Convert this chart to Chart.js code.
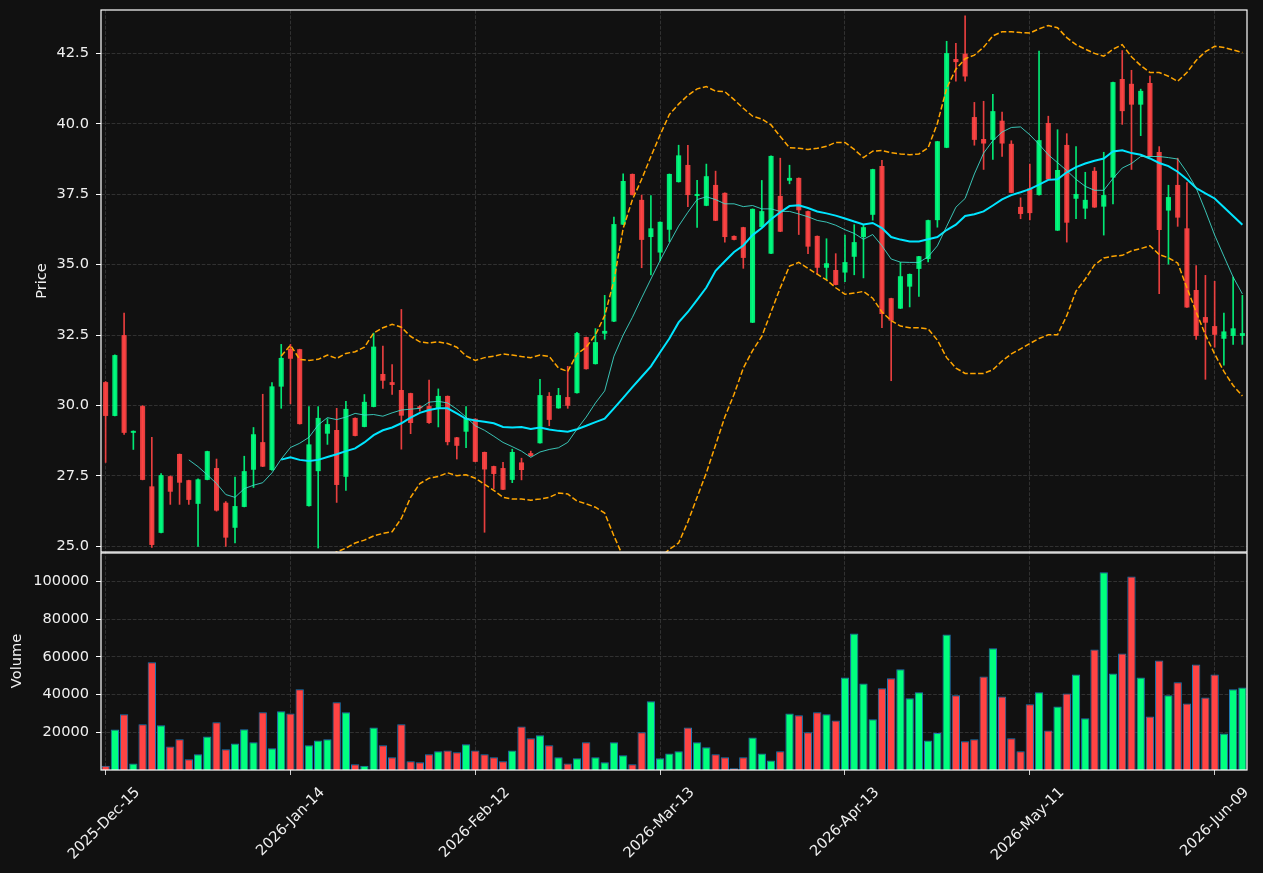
<!DOCTYPE html>
<html>
<head>
<meta charset="utf-8">
<title>Price and volume</title>
<script src="https://cdn.jsdelivr.net/npm/chart.js@4.4.1/dist/chart.umd.min.js"></script>
<style>
  html, body { margin: 0; padding: 0; background: #111111; }
  #wrap { width: 1263px; height: 873px; }
</style>
</head>
<body>
<div id="wrap"><canvas id="chart" width="1263" height="873"></canvas></div>
<script>
// x axis: one slot per session, labelled every 20 sessions
const tickIdx = [0, 20, 40, 60, 80, 100, 120];
const tickDates = ['2025-Dec-15', '2026-Jan-14', '2026-Feb-12', '2026-Mar-13', '2026-Apr-13', '2026-May-11', '2026-Jun-09'];
const priceTicks = [25.0, 27.5, 30.0, 32.5, 35.0, 37.5, 40.0, 42.5];
const volumeTicks = [20000, 40000, 60000, 80000, 100000];

// OHLC
const opens = [30.83, 29.63, 32.50, 29.03, 29.98, 27.13, 25.48, 27.49, 28.28, 27.35,
  26.51, 27.36, 27.78, 26.55, 25.66, 26.40, 27.72, 28.70, 27.71, 30.67,
  32.01, 32.00, 26.43, 27.67, 29.00, 29.13, 27.47, 29.56, 29.24, 29.95,
  31.12, 30.83, 30.55, 30.44, 29.97, 29.98, 29.88, 30.34, 28.87, 29.07,
  29.53, 28.35, 27.85, 27.78, 27.36, 27.98, 28.31, 28.66, 30.34, 29.90,
  30.30, 30.44, 32.43, 31.47, 32.55, 32.98, 36.42, 38.22, 37.30, 35.98,
  35.43, 36.24, 37.93, 38.54, 37.44, 37.09, 37.83, 37.55, 36.02, 36.33,
  32.94, 36.33, 35.39, 37.44, 37.98, 38.08, 36.90, 36.02, 34.89, 34.81,
  34.72, 35.28, 35.98, 36.77, 38.50, 33.81, 33.44, 34.22, 34.85, 35.20,
  36.58, 39.15, 42.30, 42.49, 40.24, 39.46, 39.43, 40.11, 39.29, 37.05,
  37.71, 37.47, 40.03, 36.21, 39.25, 37.34, 36.99, 38.33, 37.06, 38.09,
  41.59, 41.42, 40.68, 41.45, 39.00, 36.92, 37.83, 36.29, 34.10, 33.14,
  32.82, 32.37, 32.47, 32.47];
const highs = [30.85, 31.80, 33.28, 29.10, 30.00, 28.87, 27.58, 27.50, 28.28, 27.35,
  27.40, 28.38, 28.10, 26.59, 27.46, 28.20, 29.22, 30.40, 30.81, 32.17,
  32.17, 32.00, 29.96, 29.96, 29.53, 29.90, 30.15, 29.56, 30.39, 32.57,
  32.11, 31.45, 33.41, 30.44, 30.00, 30.90, 30.59, 30.34, 28.87, 29.96,
  29.53, 28.35, 27.85, 27.98, 28.45, 28.13, 28.38, 30.93, 30.46, 30.61,
  31.39, 32.60, 32.43, 32.73, 33.91, 36.69, 38.22, 38.22, 37.47, 37.45,
  36.52, 38.22, 39.24, 39.24, 37.99, 38.57, 38.32, 37.55, 36.02, 36.33,
  36.98, 37.99, 38.86, 38.78, 38.53, 38.08, 36.90, 36.02, 35.92, 35.39,
  36.05, 36.42, 36.42, 38.39, 38.70, 33.81, 35.08, 34.67, 35.30, 36.58,
  39.38, 42.93, 42.86, 43.83, 40.76, 40.80, 41.05, 40.42, 39.40, 37.37,
  38.57, 42.58, 40.27, 39.79, 39.65, 39.19, 38.28, 38.45, 38.99, 41.48,
  42.60, 41.90, 41.23, 41.69, 39.19, 37.82, 38.78, 37.91, 34.97, 34.62,
  34.41, 33.28, 34.56, 33.91];
const lows = [27.98, 29.63, 28.97, 28.44, 27.36, 24.96, 25.48, 26.49, 26.49, 26.49,
  25.00, 27.36, 26.25, 25.00, 25.12, 26.40, 27.09, 27.83, 27.70, 29.90,
  30.06, 29.34, 26.43, 24.94, 28.62, 26.56, 26.99, 28.92, 29.24, 29.95,
  30.61, 30.39, 28.45, 29.00, 29.80, 29.36, 29.24, 28.60, 28.10, 28.50,
  28.00, 25.50, 27.05, 27.01, 27.26, 27.36, 28.20, 28.66, 29.28, 29.90,
  29.90, 30.44, 31.29, 31.47, 32.35, 32.98, 36.42, 37.47, 34.89, 34.64,
  35.15, 35.82, 37.93, 37.06, 36.32, 37.09, 36.56, 35.80, 35.88, 34.87,
  32.94, 36.33, 35.39, 36.17, 37.87, 36.07, 35.39, 34.68, 34.46, 34.28,
  34.40, 34.64, 34.53, 36.58, 32.76, 30.88, 33.44, 33.50, 33.87, 35.10,
  36.33, 39.15, 41.51, 41.51, 39.24, 38.38, 38.74, 38.84, 37.55, 36.63,
  36.59, 37.47, 38.02, 36.21, 35.80, 36.63, 36.63, 37.03, 36.05, 37.16,
  39.98, 38.38, 39.58, 38.84, 33.97, 35.02, 36.36, 33.48, 32.35, 30.93,
  32.07, 31.43, 32.17, 32.17];
const closes = [29.63, 31.79, 29.03, 29.10, 27.36, 25.05, 27.53, 26.94, 27.26, 26.65,
  27.38, 28.38, 26.27, 25.31, 26.43, 27.67, 28.98, 27.83, 30.68, 31.69,
  31.66, 29.34, 28.62, 29.56, 29.34, 27.18, 29.88, 28.92, 30.13, 32.09,
  30.88, 30.73, 29.64, 29.38, 29.90, 29.38, 30.34, 28.70, 28.57, 29.56,
  28.00, 27.73, 27.57, 27.01, 28.35, 27.71, 28.21, 30.37, 29.49, 30.37,
  29.99, 32.57, 31.29, 32.25, 32.65, 36.44, 37.97, 37.47, 35.88, 36.29,
  36.52, 38.22, 38.88, 37.47, 37.51, 38.14, 36.56, 35.98, 35.88, 35.24,
  36.98, 36.90, 38.86, 36.17, 38.08, 36.93, 35.64, 34.89, 35.05, 34.28,
  35.09, 35.80, 36.33, 38.39, 33.25, 33.01, 34.59, 34.67, 35.30, 36.58,
  39.38, 42.51, 42.19, 41.68, 39.43, 39.30, 40.45, 39.30, 37.55, 36.80,
  36.83, 39.42, 38.02, 38.36, 36.49, 37.51, 37.30, 37.03, 37.47, 41.48,
  40.45, 40.68, 41.17, 38.84, 36.23, 37.40, 36.67, 33.48, 32.47, 32.94,
  32.51, 32.63, 32.74, 32.57];
const volumes = [2300, 21500, 29500, 3500, 24200, 57100, 23700, 12500, 16300, 5700,
  8300, 17800, 25300, 11000, 14100, 21600, 14700, 30600, 11500, 31100,
  30000, 42800, 13100, 15700, 16300, 35900, 30600, 3000, 2300, 22600,
  13100, 6700, 24200, 4600, 4100, 8300, 9900, 10400, 9400, 13600,
  10400, 8300, 6700, 4600, 10400, 23100, 16800, 18400, 13100, 6700,
  3500, 6200, 14700, 6700, 4100, 14700, 7800, 3000, 20000, 36400,
  6200, 8800, 9900, 22600, 14700, 12000, 8300, 6700, 900, 6700,
  17300, 8800, 5100, 9900, 30000, 29000, 20000, 30600, 29500, 26300,
  49100, 72400, 45900, 26900, 43300, 48600, 53400, 38000, 41200, 15700,
  19600, 71900, 39600, 15200, 16300, 49600, 64500, 39000, 16800, 9900,
  34800, 41200, 21000, 33700, 40600, 50700, 27400, 63900, 104800, 51200,
  61800, 102600, 49100, 28400, 58100, 39600, 46500, 35300, 56000, 38500,
  50700, 19400, 42800, 43800];

// overlay lines (null before each line starts)
const maFast = [null, null, null, null, null, null, null, null, null, 28.07,
  27.83, 27.54, 27.23, 26.84, 26.74, 27.05, 27.17, 27.26, 27.61, 28.10,
  28.51, 28.66, 28.87, 29.31, 29.57, 29.50, 29.59, 29.72, 29.66, 29.68,
  29.62, 29.74, 29.84, 29.87, 29.90, 30.12, 30.15, 30.09, 29.87, 29.59,
  29.28, 29.12, 28.91, 28.69, 28.54, 28.38, 28.16, 28.35, 28.44, 28.50,
  28.69, 29.16, 29.59, 30.09, 30.52, 31.75, 32.50, 33.13, 33.82, 34.49,
  35.15, 35.77, 36.37, 36.86, 37.31, 37.41, 37.31, 37.16, 37.16, 37.06,
  37.10, 36.98, 36.98, 36.89, 36.89, 36.80, 36.70, 36.57, 36.51, 36.40,
  36.24, 36.11, 35.90, 36.07, 35.67, 35.20, 35.09, 35.08, 35.08, 35.28,
  35.67, 36.36, 37.04, 37.35, 38.22, 38.96, 39.40, 39.71, 39.87, 39.89,
  39.61, 39.27, 38.90, 38.62, 38.34, 38.03, 37.78, 37.64, 37.64, 38.06,
  38.43, 38.59, 38.84, 38.84, 38.84, 38.80, 38.75, 38.28, 37.72, 36.91,
  36.05, 35.30, 34.56, 33.96];
const maSlow = [null, null, null, null, null, null, null, null, null, null,
  null, null, null, null, null, null, null, null, null, 28.08,
  28.16, 28.07, 28.03, 28.07, 28.17, 28.27, 28.38, 28.48, 28.69, 28.95,
  29.12, 29.22, 29.37, 29.57, 29.74, 29.84, 29.90, 29.90, 29.72, 29.53,
  29.47, 29.42, 29.37, 29.24, 29.22, 29.24, 29.17, 29.22, 29.15, 29.10,
  29.07, 29.16, 29.28, 29.41, 29.53, 29.90, 30.27, 30.65, 31.02, 31.39,
  31.89, 32.38, 32.95, 33.32, 33.75, 34.19, 34.78, 35.12, 35.45, 35.68,
  36.05, 36.30, 36.61, 36.86, 37.08, 37.11, 37.01, 36.89, 36.82, 36.74,
  36.64, 36.53, 36.43, 36.48, 36.30, 35.98, 35.89, 35.82, 35.82, 35.90,
  35.98, 36.23, 36.42, 36.73, 36.79, 36.89, 37.10, 37.32, 37.47, 37.57,
  37.68, 37.84, 38.01, 38.03, 38.28, 38.46, 38.59, 38.69, 38.77, 39.02,
  39.06, 38.96, 38.90, 38.77, 38.61, 38.50, 38.30, 38.03, 37.72, 37.53,
  37.35, 37.04, 36.73, 36.42];
const bandUpper = [null, null, null, null, null, null, null, null, null, null,
  null, null, null, null, null, null, null, null, null, 31.76,
  32.14, 31.64, 31.60, 31.64, 31.79, 31.67, 31.85, 31.91, 32.07, 32.57,
  32.76, 32.88, 32.78, 32.45, 32.26, 32.22, 32.26, 32.20, 32.07, 31.76,
  31.60, 31.70, 31.75, 31.83, 31.79, 31.74, 31.70, 31.79, 31.74, 31.33,
  31.21, 31.83, 32.07, 32.51, 33.19, 34.43, 36.29, 37.31, 38.03, 38.84,
  39.61, 40.33, 40.70, 41.01, 41.24, 41.32, 41.16, 41.14, 40.86, 40.55,
  40.27, 40.17, 39.96, 39.55, 39.15, 39.13, 39.09, 39.13, 39.20, 39.34,
  39.34, 39.09, 38.80, 39.03, 39.05, 38.97, 38.93, 38.90, 38.93, 39.15,
  40.02, 41.26, 41.94, 42.31, 42.44, 42.72, 43.12, 43.27, 43.27, 43.24,
  43.22, 43.37, 43.49, 43.41, 43.06, 42.81, 42.65, 42.50, 42.40, 42.65,
  42.81, 42.38, 42.07, 41.82, 41.82, 41.69, 41.51, 41.82, 42.25, 42.56,
  42.75, 42.71, 42.62, 42.53];
const bandLower = [null, null, null, null, null, null, null, null, null, null,
  null, null, null, null, null, null, null, null, null, 24.00,
  24.10, 24.25, 24.40, 24.50, 24.65, 24.80, 24.94, 25.12, 25.22, 25.37,
  25.46, 25.52, 25.99, 26.74, 27.23, 27.42, 27.48, 27.61, 27.51, 27.54,
  27.42, 27.20, 26.99, 26.74, 26.68, 26.68, 26.64, 26.68, 26.74, 26.89,
  26.86, 26.61, 26.51, 26.39, 26.18, 25.37, 24.63, 24.30, 24.20, 24.30,
  24.60, 24.90, 25.12, 25.87, 26.74, 27.61, 28.60, 29.59, 30.40, 31.33,
  31.95, 32.45, 33.32, 34.18, 34.95, 35.08, 34.87, 34.66, 34.46, 34.18,
  33.95, 33.99, 34.05, 33.81, 33.32, 33.01, 32.82, 32.76, 32.76, 32.72,
  32.32, 31.70, 31.33, 31.14, 31.14, 31.14, 31.27, 31.58, 31.83, 32.01,
  32.20, 32.38, 32.51, 32.51, 33.19, 34.06, 34.49, 34.99, 35.24, 35.30,
  35.33, 35.49, 35.57, 35.67, 35.36, 35.24, 35.06, 34.18, 33.32, 32.51,
  31.83, 31.21, 30.71, 30.34];

const UP = 'rgba(0,255,127,0.9)';
const DOWN = 'rgba(255,68,68,0.9)';
const UP_VOL = '#00ff7f';
const DOWN_VOL = '#ff4444';
const GRID = '#3a3a3a';
const TEXT = '#f0f0f0';

const slots = opens.map((_, i) => i);
const isUp = closes.map((c, i) => c >= opens[i]);
const candleColors = isUp.map(u => (u ? UP : DOWN));
const volumeColors = isUp.map(u => (u ? UP_VOL : DOWN_VOL));

Chart.defaults.font.family = "'DejaVu Sans', sans-serif";
Chart.defaults.font.size = 14.6;
Chart.defaults.color = TEXT;

// keep every dataset inside its own panel
const panelClip = {
  id: 'panelClip',
  beforeDatasetDraw(chart, args) {
    const ys = args.meta.yScale;
    const a = chart.chartArea;
    chart.ctx.save();
    chart.ctx.beginPath();
    chart.ctx.rect(a.left, ys.top, a.right - a.left, ys.bottom - ys.top);
    chart.ctx.clip();
  },
  afterDatasetDraw(chart) {
    chart.ctx.restore();
  }
};

const background = {
  id: 'background',
  beforeDraw(chart) {
    const ctx = chart.ctx;
    ctx.save();
    ctx.fillStyle = '#111111';
    ctx.fillRect(0, 0, chart.width, chart.height);
    ctx.restore();
  }
};

const frames = {
  id: 'frames',
  afterDraw(chart) {
    const ctx = chart.ctx;
    const a = chart.chartArea;
    const p = chart.scales.y;
    const v = chart.scales.yv;
    ctx.save();
    ctx.strokeStyle = '#ffffff';
    ctx.lineWidth = 1.2;
    ctx.strokeRect(a.left, p.top, a.right - a.left, p.bottom - p.top);
    ctx.strokeRect(a.left, v.top + 1, a.right - a.left, v.bottom - v.top - 1);
    ctx.restore();
  }
};

// fixed gutter for both left axes, no extra room for half labels
function fixLeftAxis(s) {
  s.width = 101;
  s.paddingTop = 0;
  s.paddingBottom = 0;
}

const yGrid = { color: GRID, lineWidth: 0.8, tickColor: '#ffffff', tickLength: 5, tickWidth: 1 };

new Chart(document.getElementById('chart'), {
  type: 'bar',
  data: {
    labels: slots,
    datasets: [
      {
        type: 'line', data: maFast, yAxisID: 'y', order: 0,
        borderColor: 'rgba(64,224,208,0.85)', borderWidth: 1, pointRadius: 0, tension: 0
      },
      {
        type: 'line', data: maSlow, yAxisID: 'y', order: 0,
        borderColor: '#00e5ff', borderWidth: 2, pointRadius: 0, tension: 0
      },
      {
        type: 'line', data: bandUpper, yAxisID: 'y', order: 0,
        borderColor: '#ffa500', borderWidth: 1.5, borderDash: [5.5, 2.4], pointRadius: 0, tension: 0
      },
      {
        type: 'line', data: bandLower, yAxisID: 'y', order: 0,
        borderColor: '#ffa500', borderWidth: 1.5, borderDash: [5.5, 2.4], pointRadius: 0, tension: 0
      },
      {
        data: opens.map((o, i) => [o, closes[i]]), yAxisID: 'y', order: 1, grouped: false,
        backgroundColor: candleColors, barPercentage: 0.55, categoryPercentage: 1
      },
      {
        data: lows.map((l, i) => [l, highs[i]]), yAxisID: 'y', order: 2, grouped: false,
        backgroundColor: candleColors, barThickness: 1
      },
      {
        data: volumes, yAxisID: 'yv', order: 3, grouped: false,
        backgroundColor: volumeColors, borderColor: '#1f77b4', borderWidth: 1,
        barPercentage: 0.9, categoryPercentage: 1
      }
    ]
  },
  options: {
    responsive: false,
    animation: false,
    events: [],
    devicePixelRatio: 1,
    layout: { padding: { top: 10, right: 16, left: 0, bottom: 0 } },
    plugins: { legend: { display: false }, tooltip: { enabled: false } },
    scales: {
      x: {
        type: 'category',
        offset: true,
        afterBuildTicks: s => { s.ticks = tickIdx.map(v => ({ value: v })); },
        afterFit: s => { s.height = 103; },
        ticks: {
          autoSkip: false, minRotation: 45, maxRotation: 45, labelOffset: 32, padding: 9,
          color: TEXT, callback: v => tickDates[tickIdx.indexOf(v)]
        },
        grid: { offset: false, color: GRID, lineWidth: 0.8, tickColor: '#ffffff', tickLength: 5 },
        border: { display: false, dash: [3.7, 1.6] }
      },
      y: {
        type: 'linear', position: 'left', stack: 'panels', stackWeight: 542, weight: 1,
        min: 24.80, max: 44.04,
        afterBuildTicks: s => { s.ticks = priceTicks.map(v => ({ value: v })); },
        afterFit: fixLeftAxis,
        ticks: { color: TEXT, padding: 7, callback: v => v.toFixed(1) },
        grid: yGrid,
        border: { display: false, dash: [3.7, 1.6] },
        title: { display: true, text: 'Price', color: TEXT, padding: { top: 33, bottom: 0 } }
      },
      yv: {
        type: 'linear', position: 'left', stack: 'panels', stackWeight: 218, weight: 0,
        min: 0, max: 115600,
        afterBuildTicks: s => { s.ticks = volumeTicks.map(v => ({ value: v })); },
        afterFit: fixLeftAxis,
        ticks: { color: TEXT, padding: 7, callback: v => String(v) },
        grid: yGrid,
        border: { display: false, dash: [3.7, 1.6] },
        title: { display: true, text: 'Volume', color: TEXT, padding: { top: 8.6, bottom: 0 } }
      }
    }
  },
  plugins: [background, panelClip, frames]
});
</script>
</body>
</html>
